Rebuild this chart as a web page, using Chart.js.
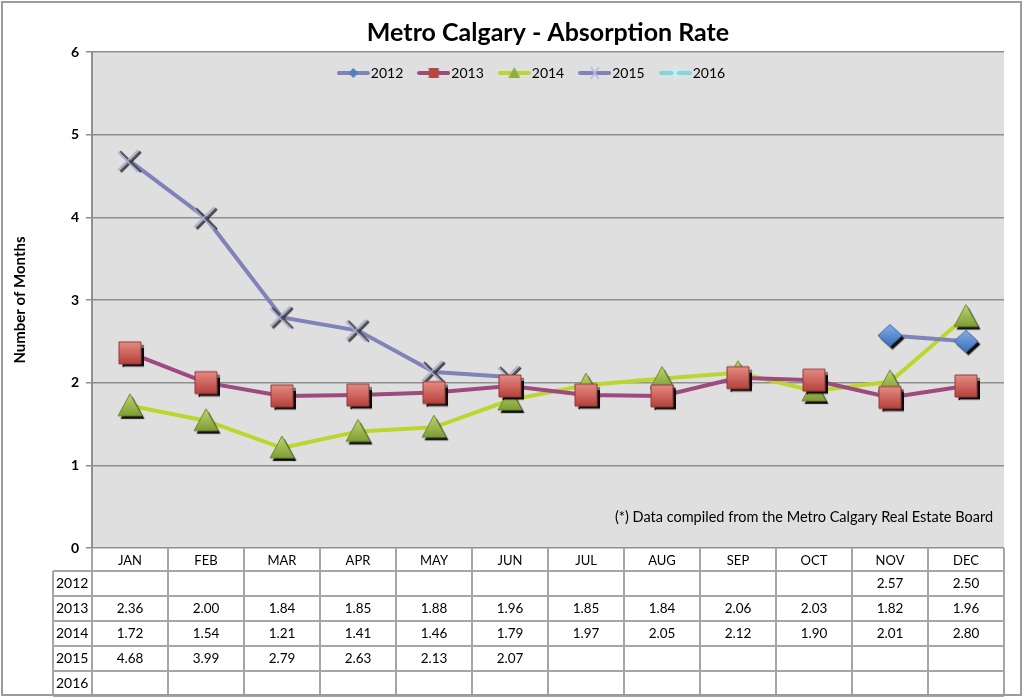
<!DOCTYPE html>
<html>
<head>
<meta charset="utf-8">
<script src="https://cdn.jsdelivr.net/npm/chart.js@4/dist/chart.umd.min.js"></script>
<style>
html, body { margin: 0; padding: 0; background: #fff; }
#caixa { width: 1024px; height: 697px; }
</style>
</head>
<body>
<div id="caixa"><canvas id="line-chart" width="1024" height="697"></canvas></div>
<script>
// dados do grafico
var meses = ['JAN', 'FEB', 'MAR', 'APR', 'MAY', 'JUN', 'JUL', 'AUG', 'SEP', 'OCT', 'NOV', 'DEC'];
var anos = ['2012', '2013', '2014', '2015', '2016'];
var dados2012 = [null, null, null, null, null, null, null, null, null, null, 2.57, 2.50];
var dados2013 = [2.36, 2.00, 1.84, 1.85, 1.88, 1.96, 1.85, 1.84, 2.06, 2.03, 1.82, 1.96];
var dados2014 = [1.72, 1.54, 1.21, 1.41, 1.46, 1.79, 1.97, 2.05, 2.12, 1.90, 2.01, 2.80];
var dados2015 = [4.68, 3.99, 2.79, 2.63, 2.13, 2.07, null, null, null, null, null, null];
var dados2016 = [null, null, null, null, null, null, null, null, null, null, null, null];
var eixoY = { min: 0, max: 6, passo: 1 };
var nota = '(*) Data compiled from the Metro Calgary Real Estate Board';

var fonte = "Lato, 'Open Sans', sans-serif";

// marcadores com sombra (estilo excel)
function marcador(tipo, c1, c2, borda) {
	var c = document.createElement('canvas');
	c.width = 32; c.height = 32;
	var ctx = c.getContext('2d');
	ctx.shadowColor = 'rgba(0,0,0,0.95)';
	ctx.shadowOffsetX = 2.5;
	ctx.shadowOffsetY = 3;
	ctx.shadowBlur = 1;
	if (tipo == 'xis') {
		ctx.shadowOffsetX = 1; ctx.shadowOffsetY = 1;
		ctx.strokeStyle = '#555';
		ctx.lineWidth = 1.5;
		ctx.beginPath();
		ctx.moveTo(6, 6); ctx.lineTo(26, 26);
		ctx.moveTo(26, 6); ctx.lineTo(6, 26);
		ctx.stroke();
		ctx.shadowColor = 'transparent';
		ctx.strokeStyle = '#a9a9d6';
		ctx.beginPath();
		ctx.moveTo(4, 7); ctx.lineTo(24, 27);
		ctx.moveTo(24, 5); ctx.lineTo(4, 25);
		ctx.stroke();
		return c;
	}
	var g = ctx.createLinearGradient(0, 5, 0, 27);
	g.addColorStop(0, c1);
	g.addColorStop(1, c2);
	ctx.fillStyle = g;
	ctx.strokeStyle = borda;
	ctx.lineWidth = 1;
	ctx.beginPath();
	if (tipo == 'quadrado') {
		ctx.rect(5, 5, 22, 22);
	} else if (tipo == 'triangulo') {
		ctx.moveTo(16, 4); ctx.lineTo(28, 26); ctx.lineTo(4, 26); ctx.closePath();
	} else if (tipo == 'losango') {
		ctx.moveTo(16, 5); ctx.lineTo(28, 16); ctx.lineTo(16, 27); ctx.lineTo(4, 16); ctx.closePath();
	}
	ctx.fill();
	ctx.shadowColor = 'transparent';
	ctx.stroke();
	return c;
}

// simbolo da legenda: linha com marcador pequeno
function simboloLegenda(corLinha, corMarca, tipo) {
	var c = document.createElement('canvas');
	c.width = 33; c.height = 14;
	var ctx = c.getContext('2d');
	ctx.strokeStyle = corLinha;
	ctx.lineWidth = 4;
	ctx.lineCap = 'round';
	ctx.beginPath(); ctx.moveTo(2, 7); ctx.lineTo(31, 7); ctx.stroke();
	ctx.lineCap = 'butt';
	ctx.fillStyle = corMarca;
	ctx.strokeStyle = corMarca;
	ctx.lineWidth = 1.5;
	ctx.beginPath();
	if (tipo == 'losango') { ctx.moveTo(16.5, 2); ctx.lineTo(21.5, 7); ctx.lineTo(16.5, 12); ctx.lineTo(11.5, 7); ctx.closePath(); ctx.fill(); }
	if (tipo == 'quadrado') { ctx.rect(11.5, 2, 10, 10); ctx.fill(); }
	if (tipo == 'triangulo') { ctx.moveTo(16.5, 1); ctx.lineTo(22.5, 12); ctx.lineTo(10.5, 12); ctx.closePath(); ctx.fill(); }
	if (tipo == 'xis') { ctx.moveTo(12.5, 1); ctx.lineTo(20.5, 13); ctx.moveTo(20.5, 1); ctx.lineTo(12.5, 13); ctx.stroke(); }
	if (tipo == 'estrela') { ctx.moveTo(16.5, 0); ctx.lineTo(16.5, 14); ctx.moveTo(11.5, 2); ctx.lineTo(21.5, 12); ctx.moveTo(21.5, 2); ctx.lineTo(11.5, 12); ctx.stroke(); }
	return c;
}

var mLosango = marcador('losango', '#7fb0ec', '#3e6db5', '#3b64a8');
var mQuadrado = marcador('quadrado', '#e58b82', '#b5413c', '#8f3a3a');
var mTriangulo = marcador('triangulo', '#b9d46c', '#7c9a34', '#6f8a2e');
var mXis = marcador('xis');

var legendas = [
	simboloLegenda('#8083b8', '#4f81bd', 'losango'),
	simboloLegenda('#9d4a7e', '#b54740', 'quadrado'),
	simboloLegenda('#bcd62f', '#8fae48', 'triangulo'),
	simboloLegenda('#8083b8', '#b8b9dc', 'xis'),
	simboloLegenda('#7fd6dc', '#c9f0f2', 'estrela')
];

// plugin: fundo, legenda, tabela de dados, nota e moldura
var tabela = {
	id: 'tabela',
	beforeDraw: function(chart) {
		var ctx = chart.ctx, a = chart.chartArea;
		ctx.save();
		ctx.fillStyle = '#dfdfdf';
		ctx.fillRect(a.left, a.top, a.right - a.left, a.bottom - a.top);
		ctx.restore();
	},
	afterDraw: function(chart) {
		var ctx = chart.ctx, a = chart.chartArea, x = chart.scales.x;
		var series = [dados2012, dados2013, dados2014, dados2015, dados2016];
		var meio = (x.getPixelForValue(1) - x.getPixelForValue(0)) / 2;
		var cab = 23, alt = 25, esq = 53;
		var topo = a.bottom + cab;
		var fundo = topo + alt * anos.length;
		ctx.save();

		// legenda dentro da area do grafico
		ctx.font = '14px ' + fonte;
		ctx.textBaseline = 'middle';
		ctx.textAlign = 'left';
		var larguras = chart.data.datasets.map(function(d) { return 33 + 1 + ctx.measureText(d.label).width; });
		var total = larguras.reduce(function(s, w) { return s + w; }, 0) + 14 * (larguras.length - 1);
		var lx = (a.left + a.right) / 2 - 17 - total / 2;
		var ly = a.top + 21;
		chart.data.datasets.forEach(function(d, i) {
			ctx.drawImage(legendas[i], lx, ly - 7);
			ctx.fillStyle = '#000';
			ctx.fillText(d.label, lx + 34, ly);
			lx += larguras[i] + 14;
		});

		ctx.strokeStyle = '#a6a6a6';
		ctx.lineWidth = 2;
		ctx.beginPath();
		for (var i = 0; i <= meses.length; i++) {
			var px = i < meses.length ? x.getPixelForValue(i) - meio : x.getPixelForValue(i - 1) + meio;
			ctx.moveTo(px, a.bottom); ctx.lineTo(px, fundo);
		}
		ctx.moveTo(esq, topo); ctx.lineTo(esq, fundo);
		for (var r = 0; r <= anos.length; r++) {
			ctx.moveTo(esq, topo + r * alt); ctx.lineTo(a.right, topo + r * alt);
		}
		ctx.stroke();

		ctx.fillStyle = '#000';
		ctx.textBaseline = 'middle';
		for (var r = 0; r < anos.length; r++) {
			var py = topo + r * alt + alt / 2;
			ctx.font = '14px ' + fonte;
			ctx.textAlign = 'left';
			ctx.fillText(anos[r], esq + 3, py);
			ctx.font = '13.5px ' + fonte;
			ctx.textAlign = 'center';
			for (var i = 0; i < meses.length; i++) {
				if (series[r][i] != null) ctx.fillText(series[r][i].toFixed(2), x.getPixelForValue(i), py);
			}
		}

		ctx.textAlign = 'right';
		ctx.font = '14.5px ' + fonte;
		ctx.fillText(nota, a.right - 11, a.bottom - 31);

		ctx.strokeStyle = '#9c9c9c';
		ctx.lineWidth = 2;
		ctx.strokeRect(2, 2, 1019, 693);
		ctx.restore();
	}
};

new Chart(document.getElementById('line-chart'), {
	type: 'line',
	data: {
		labels: meses,
		datasets: [{
			label: '2012', data: dados2012,
			borderColor: '#8083b8', borderWidth: 4,
			pointStyle: mLosango
		}, {
			label: '2013', data: dados2013,
			borderColor: '#9d4a7e', borderWidth: 4,
			pointStyle: mQuadrado
		}, {
			label: '2014', data: dados2014,
			borderColor: '#bcd62f', borderWidth: 4,
			pointStyle: mTriangulo
		}, {
			label: '2015', data: dados2015,
			borderColor: '#8083b8', borderWidth: 4,
			pointStyle: mXis
		}, {
			label: '2016', data: dados2016,
			borderColor: '#7fd6dc', borderWidth: 4,
			pointStyle: 'star'
		}]
	},
	options: {
		responsive: false,
		animation: false,
		layout: { padding: { left: 8, right: 20, top: 0, bottom: 126 } },
		plugins: {
			title: {
				display: true,
				fullSize: false,
				text: 'Metro Calgary - Absorption Rate',
				color: '#000',
				font: { family: fonte, size: 25, weight: 'bold' },
				padding: { top: 18, bottom: 4 }
			},
			legend: { display: false },
			tooltip: { enabled: false }
		},
		scales: {
			x: {
				offset: true,
				grid: { display: false, drawTicks: false },
				border: { display: false },
				ticks: { color: '#000', padding: 5, font: { family: fonte, size: 13 } },
				afterFit: function(s) { s.height = 23; }
			},
			y: {
				min: eixoY.min, max: eixoY.max,
				ticks: { stepSize: eixoY.passo, color: '#000', padding: 7, font: { family: fonte, size: 14, weight: 'bold' } },
				grid: { color: '#8f8f8f', lineWidth: 1.5, tickLength: 6 },
				border: { color: '#8f8f8f', width: 2 },
				title: {
					display: true, text: 'Number of Months', color: '#000',
					font: { family: fonte, size: 15, weight: 'bold' },
					padding: { top: 3, bottom: 3 }
				},
				afterFit: function(s) { s.width = 84; }
			}
		}
	},
	plugins: [tabela]
});
</script>
</body>
</html>
